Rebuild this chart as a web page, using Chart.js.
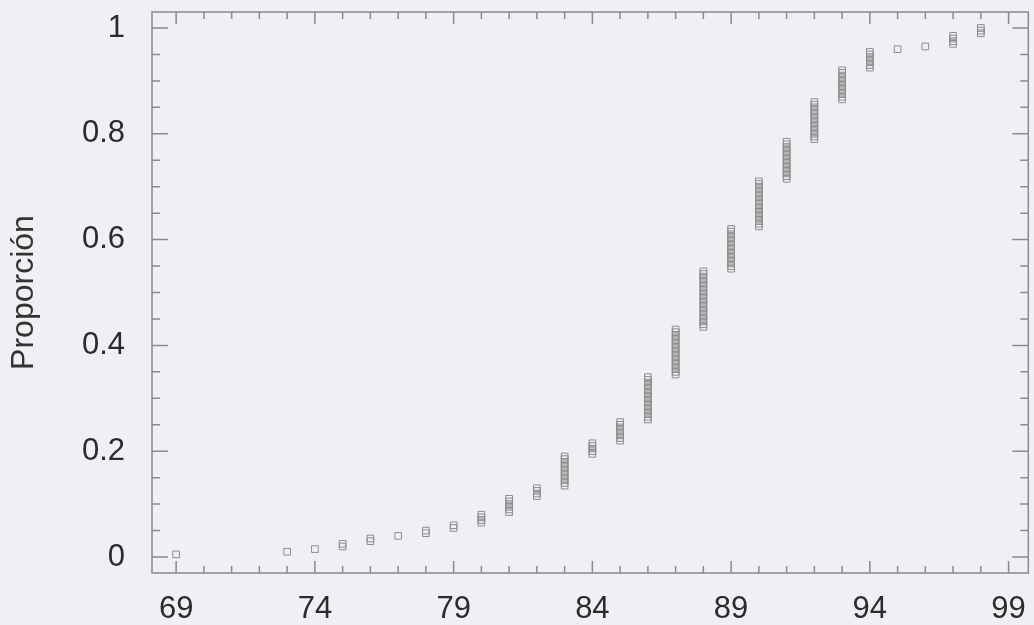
<!DOCTYPE html>
<html>
<head>
<meta charset="utf-8">
<script src="https://cdn.jsdelivr.net/npm/chart.js@4"></script>
<style>
  html, body { margin: 0; padding: 0; background: #f1eff3; }
  canvas { display: block; }
</style>
</head>
<body>
<canvas id="chart" width="1034" height="625"></canvas>
<script>
// observed scores and how many squares are stacked in each column
const scores = [69, 73, 74, 75, 76, 77, 78, 79, 80, 81, 82, 83, 84, 85, 86, 87, 88, 89, 90, 91, 92, 93, 94, 95, 96, 97, 98];
const counts = [1, 1, 1, 2, 2, 1, 2, 2, 4, 6, 4, 12, 5, 8, 17, 18, 22, 16, 18, 15, 15, 12, 7, 1, 1, 4, 3];
const xTicks = [69, 74, 79, 84, 89, 94, 99];
const yTicks = [0, 0.2, 0.4, 0.6, 0.8, 1];
const yTickLabels = ['0', '0.2', '0.4', '0.6', '0.8', '1'];

// cumulative proportion for every observation
const total = counts.reduce((a, b) => a + b, 0);
const points = [];
let cum = 0;
scores.forEach((s, i) => {
    for (let k = 0; k < counts[i]; k++) {
        cum++;
        points.push({ x: s, y: cum / total });
    }
});

const axisColor = '#8a8a8a';
const textColor = '#2b2b2b';
const fontFamily = "'Liberation Sans', Arial, sans-serif";

// no extra room for labels that hang over the plot edges
const noPad = (scale) => {
    scale.paddingTop = 0;
    scale.paddingBottom = 0;
    scale.paddingLeft = 0;
    scale.paddingRight = 0;
};

// box around the plot with ticks pointing inwards on all four sides
const frameTicks = {
    id: 'frameTicks',
    afterDraw(chart) {
        const { ctx, chartArea: { left, right, top, bottom }, scales: { x, y } } = chart;
        ctx.save();
        ctx.strokeStyle = axisColor;
        ctx.lineWidth = 1.5;
        ctx.strokeRect(left, top, right - left, bottom - top);
        ctx.beginPath();
        for (let v = Math.ceil(x.min); v <= x.max; v++) {
            const px = x.getPixelForValue(v);
            const len = xTicks.includes(v) ? 12 : 7;
            ctx.moveTo(px, bottom); ctx.lineTo(px, bottom - len);
            ctx.moveTo(px, top); ctx.lineTo(px, top + len);
        }
        for (let i = 0; i <= 20; i++) {
            const py = y.getPixelForValue(i * 0.05);
            const len = i % 4 === 0 ? 16 : 8;
            ctx.moveTo(left, py); ctx.lineTo(left + len, py);
            ctx.moveTo(right, py); ctx.lineTo(right - len, py);
        }
        ctx.stroke();
        ctx.restore();
    }
};

new Chart(document.getElementById('chart'), {
    type: 'scatter',
    data: {
        datasets: [{
            label: 'Proporción',
            data: points,
            pointStyle: 'rect',
            pointRadius: 4.7,
            pointHoverRadius: 4.7,
            borderWidth: 1,
            borderColor: '#8c8c8c',
            backgroundColor: 'rgba(0,0,0,0)'
        }]
    },
    options: {
        responsive: false,
        animation: false,
        events: [],
        layout: { padding: { top: 12, right: 2, left: 0, bottom: 0 } },
        plugins: {
            legend: { display: false },
            tooltip: { enabled: false }
        },
        scales: {
            x: {
                type: 'linear',
                min: 68.13,
                max: 99.71,
                afterBuildTicks: (scale) => { scale.ticks = xTicks.map(v => ({ value: v })); },
                afterFit: (scale) => { scale.height = 52; noPad(scale); },
                grid: { display: false },
                border: { display: false },
                ticks: {
                    padding: 10,
                    color: textColor,
                    font: { family: fontFamily, size: 31 },
                    maxRotation: 0
                }
            },
            y: {
                min: -0.0302,
                max: 1.0302,
                afterBuildTicks: (scale) => { scale.ticks = yTicks.map(v => ({ value: v })); },
                afterFit: (scale) => { scale.width = 152; noPad(scale); },
                grid: { display: false },
                border: { display: false },
                ticks: {
                    padding: 19,
                    color: textColor,
                    font: { family: fontFamily, size: 31 },
                    callback: (v) => yTickLabels[yTicks.indexOf(v)]
                },
                title: {
                    display: true,
                    text: 'Proporción',
                    color: '#333333',
                    font: { family: fontFamily, size: 32 },
                    padding: { top: 5, bottom: 0 }
                }
            }
        }
    },
    plugins: [frameTicks]
});
</script>
</body>
</html>
